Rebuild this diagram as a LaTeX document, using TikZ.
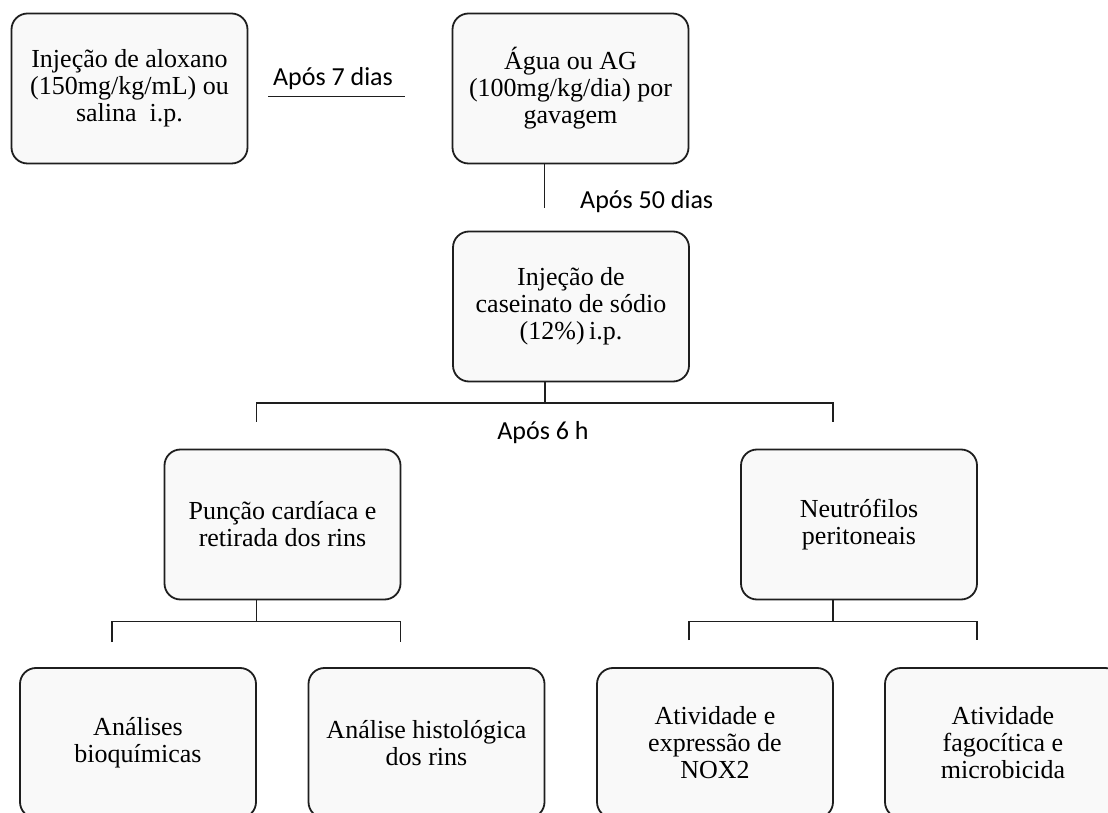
\documentclass[tikz,border=0pt]{standalone}
\usepackage{fontspec}
\setmainfont{Liberation Serif}
\newfontfamily\labelfont{Carlito}
\usetikzlibrary{positioning}
\definecolor{boxfill}{RGB}{249,249,249}
\definecolor{lineink}{RGB}{30,30,30}

\begin{document}
\begin{tikzpicture}[
    x=1pt, y=1pt,
    block/.style={rectangle, draw=lineink, fill=boxfill, line width=1.8pt, rounded corners=16pt, minimum width=236pt, minimum height=150pt, align=center, inner sep=4pt, font=\fontsize{26}{27}\selectfont},
    link/.style={draw=lineink, line width=1.8pt},
    lbl/.style={font=\labelfont\fontsize{26}{30}\selectfont, inner sep=0pt, anchor=base},
]
\path[use as bounding box, fill=white] (0,0) rectangle (1108,812);
\clip (0,0) rectangle (1108,812);

% Row 1
\node[block] (alox) at (129.5,723.5) {Injeção de aloxano\\(150mg/kg/mL) ou\\salina \ i.p.};
\node[block] (agua) at (570.5,723.5) {Água ou AG\\(100mg/kg/dia) por\\gavagem};

% Row 2
\node[block] (case) at (571,505.5) {Injeção de\\caseinato de sódio\\(12\%)\,i.p.};

% Row 3
\node[block] (punc) at (282.5,287.5) {Punção cardíaca e\\retirada dos rins};
\node[block] (neut) at (859,287.5) {Neutrófilos\\peritoneais};

% Row 4
\node[block] (bioq) at (138,69) {Análises\\bioquímicas};
\node[block] (hist) at (426.5,69) {Análise histológica\\dos rins};
\node[block] (nox) at (715,69) {Atividade e\\expressão de\\NOX2};
\node[block] (fago) at (1003,69) {Atividade\\fagocítica e\\microbicida};

% Connectors
\draw[link] ([shift={(20pt,-8pt)}]alox.east) -- ([shift={(-47pt,-8pt)}]agua.west);
\draw[link] ([xshift=-26pt]agua.south) -- ++(0,-44);
\draw[link] ([xshift=-26pt]case.south) -- ++(0,-21) coordinate (j1);
\draw[link] ([shift={(-26pt,27pt)}]punc.north) |- (j1) -| ([shift={(-26pt,27pt)}]neut.north);
\draw[link] ([xshift=-26pt]punc.south) -- ++(0,-21) coordinate (j2);
\draw[link] ([shift={(-26pt,25pt)}]bioq.north) |- (j2) -| ([shift={(-26pt,25pt)}]hist.north);
\draw[link] ([xshift=-26pt]neut.south) -- ++(0,-21) coordinate (j3);
\draw[link] ([shift={(-26pt,27pt)}]nox.north) |- (j3) -| ([shift={(-26pt,27pt)}]fago.north);

% Labels
\node[lbl] (t7) at (333,726) {Após 7 dias};
\node[lbl, anchor=base west] (t50) at (580,603) {Após 50 dias};
\node[lbl] (t6) at (543,372) {Após 6 h};
\end{tikzpicture}
\end{document}
